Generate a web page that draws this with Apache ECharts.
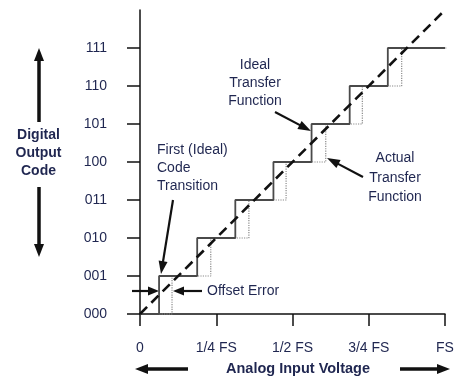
<!DOCTYPE html>
<html>
<head>
<meta charset="utf-8">
<script src="https://cdn.jsdelivr.net/npm/echarts@6/dist/echarts.min.js"></script>
<style>html,body{margin:0;padding:0;background:#fff}#c{width:461px;height:385px}</style>
</head>
<body>
<div id="c"></div>
<script>
// ---- data (x in fractions of FS, y in output code index) ----
var xTickLabels = ['0', '1/4 FS', '1/2 FS', '3/4 FS', 'FS'];
var yTickLabels = ['000', '001', '010', '011', '100', '101', '110', '111'];
var codes = [0, 1, 2, 3, 4, 5, 6, 7];
// input voltage where each code begins (ideal staircase)
var idealStart = [0, 0.0625, 0.1875, 0.3125, 0.4375, 0.5625, 0.6875, 0.8125];
var idealEnd = 1.0;
// input voltage where each code begins (actual staircase, with offset)
var actualStart = [0, 0.105, 0.232, 0.357, 0.479, 0.609, 0.729, 0.858];
var actualEnd = 1.053;
// ideal straight transfer line
var idealLineX = [0, 1];
var idealLineY = [0, 8];

var TXT = '#1f2650';
var FONT = 'Liberation Sans, Arial, sans-serif';

function stepData(starts, end) {
  var d = starts.map(function (x, i) { return [x, codes[i]]; });
  d.push([end, codes[codes.length - 1]]);
  return d;
}

function arrow(x1, y1, x2, y2, w, hl, hw) {
  var dx = x2 - x1, dy = y2 - y1, L = Math.sqrt(dx * dx + dy * dy);
  var ux = dx / L, uy = dy / L, px = -uy, py = ux;
  var bx = x2 - ux * hl, by = y2 - uy * hl;
  return [
    { type: 'line', silent: true, shape: { x1: x1, y1: y1, x2: bx + ux, y2: by + uy },
      style: { stroke: '#111', lineWidth: w } },
    { type: 'polygon', silent: true,
      shape: { points: [[x2, y2], [bx + px * hw / 2, by + py * hw / 2], [bx - px * hw / 2, by - py * hw / 2]] },
      style: { fill: '#111' } }
  ];
}
function txt(s, x, y, align, bold, size) {
  return { type: 'text', silent: true, x: x, y: y,
    style: { text: s, fill: TXT, align: align || 'left', verticalAlign: 'middle',
      font: (bold ? 'bold ' : '') + (size || 14) + 'px ' + FONT } };
}

var g = [];
g = g.concat(arrow(39, 122, 39, 48, 3.5, 13, 10));
g = g.concat(arrow(39, 187, 39, 257, 3.5, 13, 10));
g = g.concat(arrow(188, 369, 135, 369, 3.5, 13, 10));
g = g.concat(arrow(400, 369, 450, 369, 3.5, 13, 10));
g = g.concat(arrow(173, 200, 161, 274, 2.2, 13, 9));
g = g.concat(arrow(132, 291, 159, 291, 2.2, 11, 9));
g = g.concat(arrow(202, 291, 173, 291, 2.2, 11, 9));
g = g.concat(arrow(275, 112, 311, 131, 2.2, 13, 9));
g = g.concat(arrow(363, 177, 327, 158, 2.2, 13, 9));
g.push(txt('Digital', 38.5, 135, 'center', true));
g.push(txt('Output', 38.5, 153, 'center', true));
g.push(txt('Code', 38.5, 171, 'center', true));
g.push(txt('Analog Input Voltage', 298, 369, 'center', true, 14.5));
g.push(txt('First (Ideal)', 157, 150));
g.push(txt('Code', 157, 168));
g.push(txt('Transition', 157, 186));
g.push(txt('Offset Error', 207, 291));
g.push(txt('Ideal', 255, 65, 'center'));
g.push(txt('Transfer', 255, 83, 'center'));
g.push(txt('Function', 255, 101, 'center'));
g.push(txt('Actual', 395, 158, 'center'));
g.push(txt('Transfer', 395, 178, 'center'));
g.push(txt('Function', 395, 197, 'center'));

var chart = echarts.init(document.getElementById('c'), null, { renderer: 'canvas' });
chart.setOption({
  animation: false,
  backgroundColor: '#fff',
  grid: { left: 140, right: 16, top: 10, bottom: 71, containLabel: false },
  xAxis: {
    type: 'value', min: 0, max: 1, interval: 0.25,
    axisLine: { show: true, onZero: false, lineStyle: { color: '#111', width: 1.5 } },
    axisTick: { show: true, length: 12, lineStyle: { color: '#111', width: 1.5 } },
    axisLabel: { margin: 27, color: TXT, fontSize: 14, fontFamily: FONT,
      formatter: function (v) { return xTickLabels[Math.round(v * 4)]; } },
    splitLine: { show: false }
  },
  yAxis: {
    type: 'value', min: 0, max: 8, interval: 1,
    axisLine: { show: true, onZero: false, lineStyle: { color: '#111', width: 1.5 } },
    axisTick: { show: true, length: 13, customValues: codes, lineStyle: { color: '#111', width: 1.5 } },
    axisLabel: { margin: 33, color: TXT, fontSize: 14, fontFamily: FONT, customValues: codes,
      formatter: function (v) { return yTickLabels[v] || ''; } },
    splitLine: { show: false }
  },
  series: [
    { type: 'line', step: 'end', clip: false, symbol: 'none', silent: true,
      data: stepData(actualStart, actualEnd),
      lineStyle: { color: '#8a8a8a', width: 1.2, type: 'dotted' }, z: 2 },
    { type: 'line', step: 'end', clip: false, symbol: 'none', silent: true,
      data: stepData(idealStart, idealEnd),
      lineStyle: { color: '#4a4a4a', width: 1.8 }, z: 3 },
    { type: 'line', clip: false, symbol: 'none', silent: true,
      data: idealLineX.map(function (x, i) { return [x, idealLineY[i]]; }),
      lineStyle: { color: '#111', width: 2.6, type: [10, 6] }, z: 4 }
  ],
  graphic: g
});
</script>
</body>
</html>
